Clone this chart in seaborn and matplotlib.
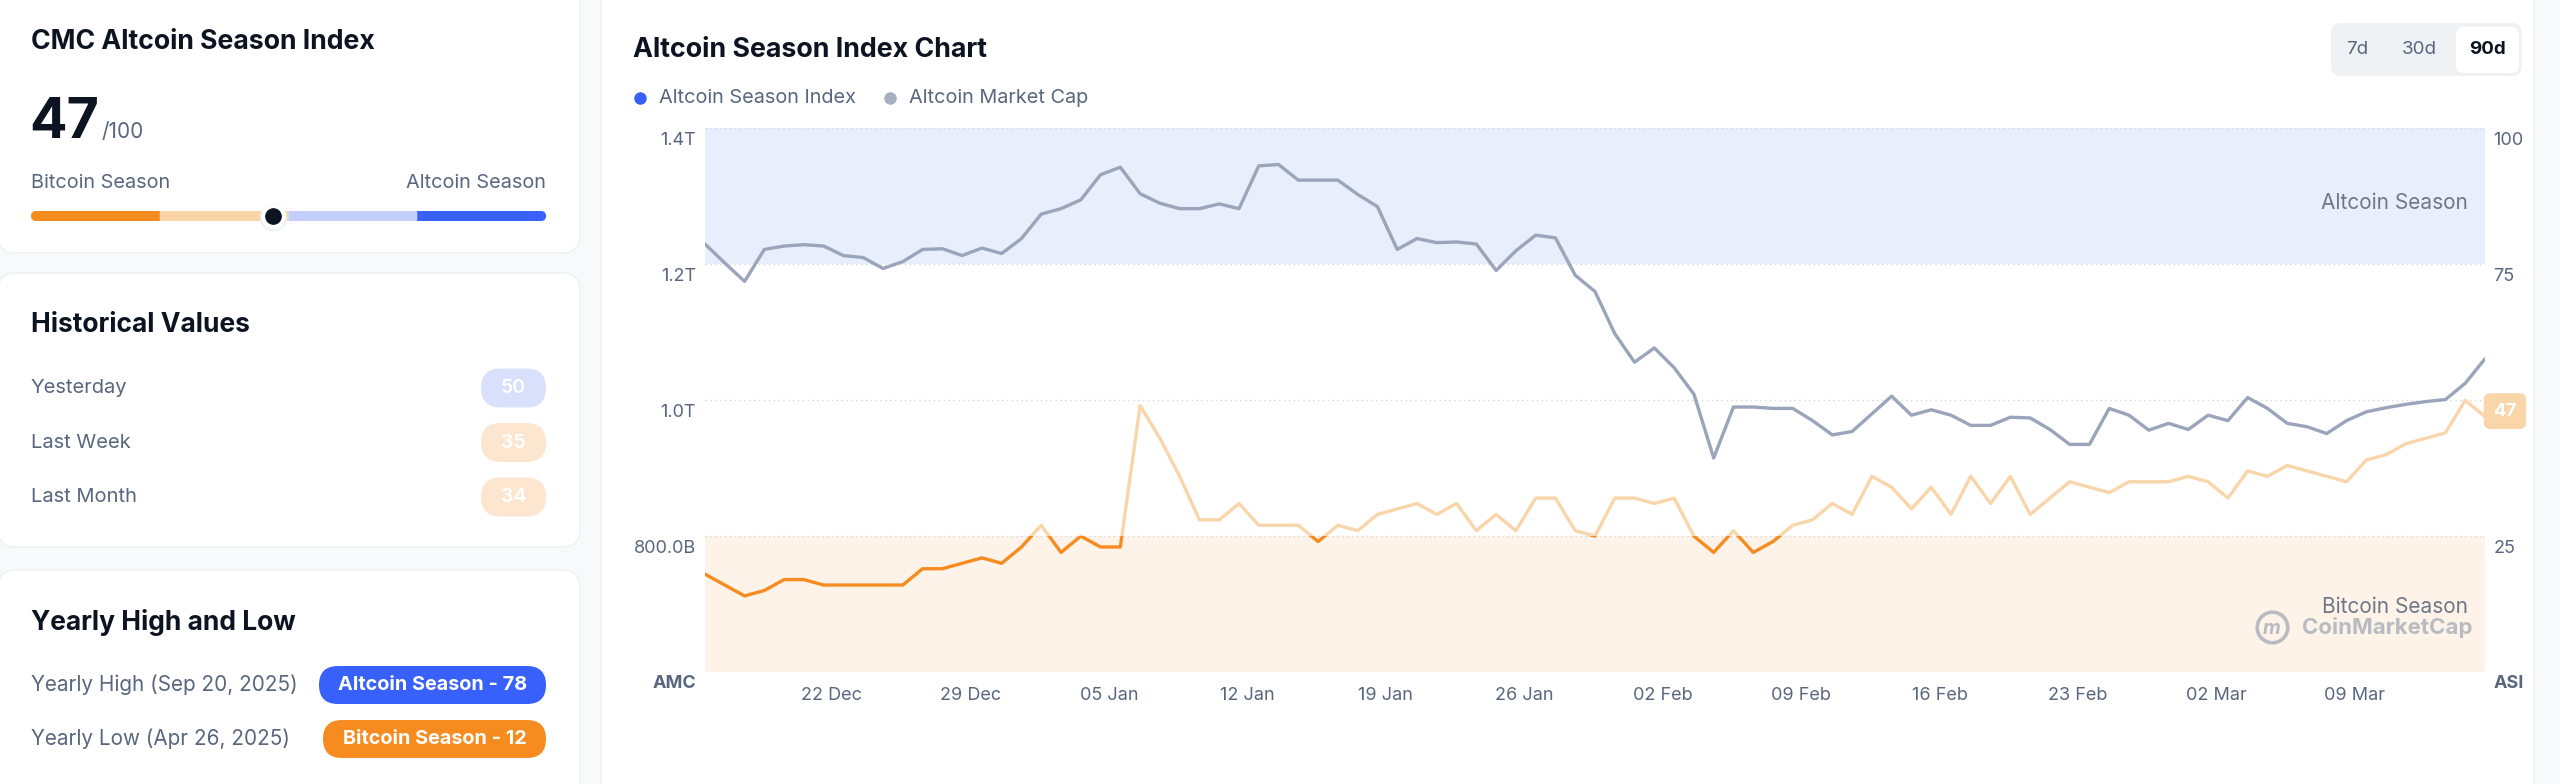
import numpy as np
import pandas as pd
import matplotlib
matplotlib.use("Agg")
import matplotlib.pyplot as plt
import matplotlib.dates as mdates
import matplotlib.transforms as mtransforms
from matplotlib.patches import FancyBboxPatch, Rectangle
from matplotlib.lines import Line2D
import seaborn as sns

W, H = 2560, 784

# daily values, 90 days ending mid March
dates = pd.date_range("2025-12-15 14:00", periods=91, freq="D")
asi = [18, 16, 14, 15, 17, 17, 16, 16, 16, 16, 16, 19, 19, 20, 21, 20, 23, 27, 22, 25,
       23, 23, 49, 43, 36, 28, 28, 31, 27, 27, 27, 24, 27, 26, 29, 30, 31, 29, 31, 26,
       29, 26, 32, 32, 26, 25, 32, 32, 31, 32, 25, 22, 26, 22, 24, 27, 28, 31, 29, 36,
       34, 30, 34, 29, 36, 31, 36, 29, 32, 35, 34, 33, 35, 35, 35, 36, 35, 32, 37, 36,
       38, 37, 36, 35, 39, 40, 42, 43, 44, 50, 47]
mcap_b = [1230, 1202, 1175, 1222, 1227, 1229, 1227, 1213, 1210, 1194, 1204, 1222, 1223, 1213,
          1224, 1216, 1238, 1274, 1282, 1295, 1332, 1343, 1304, 1290, 1282, 1282, 1289, 1282,
          1345, 1347, 1324, 1324, 1324, 1303, 1285, 1222, 1238, 1232, 1233, 1230, 1191, 1220,
          1243, 1239, 1184, 1160, 1098, 1056, 1077, 1048, 1009, 915, 990, 990, 988, 988,
          970, 949, 954, 980, 1006, 978, 986, 978, 963, 963, 975, 974, 957, 935, 935,
          988, 978, 956, 966, 957, 978, 970, 1004, 988, 966, 961, 951, 970, 983, 989,
          994, 998, 1001, 1025, 1061]

xtick_dates = pd.date_range("2025-12-22", "2026-03-09", freq="7D")
left_ticks = [600, 800, 1000, 1200, 1400]
left_labels = ["AMC", "800.0B", "1.0T", "1.2T", "1.4T"]
right_ticks = [0, 25, 50, 75, 100]
right_labels = ["ASI", "25", "50", "75", "100"]

current_index = 47
hist_labels = ["Yesterday", "Last Week", "Last Month"]
hist_values = [50, 35, 34]
yearly_labels = ["Yearly High (Sep 20, 2025)", "Yearly Low (Apr 26, 2025)"]
yearly_badges = ["Altcoin Season - 78", "Bitcoin Season - 12"]
periods = ["7d", "30d", "90d"]

BG = "#F8F9FA"
DARK = "#0D1421"
GREY_T = "#58667E"
ORANGE = "#F68B1F"
PEACH = "#F9D5AA"
PEACH_PILL = "#FDE6D0"
BLUE = "#3861FB"
LIGHT_BLUE = "#C3CEFB"
BLUE_PILL = "#D8E0FC"
BLUE_BAND = "#E9EEFD"
ORANGE_BAND = "#FDF3E9"
GREY_LINE = "#9AA4BA"

sns.set_theme(style="white")
plt.rcParams["font.family"] = ["Inter", "DejaVu Sans"]

fig = plt.figure(figsize=(W / 100, H / 100), dpi=100, facecolor=BG)
PX = mtransforms.Affine2D().scale(1 / W, 1 / H) + fig.transFigure


def box(x0, y0, x1, y1, r, fc, ec="none", z=-1):
    # y measured from top of image
    p = FancyBboxPatch((x0, H - y1), x1 - x0, y1 - y0,
                       boxstyle=f"round,pad=0,rounding_size={r}",
                       transform=PX, fc=fc, ec=ec, lw=1, zorder=z)
    fig.add_artist(p)


def txt(x, y, s, **kw):
    kw.setdefault("va", "center")
    fig.text(x / W, 1 - y / H, s, **kw)


def dot(x, y, size, color, **kw):
    fig.add_artist(Line2D([x / W], [1 - y / H], marker="o", ms=size, mfc=color,
                          mec=kw.pop("mec", color), transform=fig.transFigure, **kw))


# ---- left cards
box(-2, -30, 580, 253, 18, "white", "#EEF0F3")
box(-2, 273, 580, 547, 18, "white", "#EEF0F3")
box(-2, 570, 580, 820, 18, "white", "#EEF0F3")

txt(31, 42, "CMC Altcoin Season Index", fontsize=19.2, fontweight="bold", color=DARK)
txt(29, 138, str(current_index), fontsize=40, fontweight="bold", color=DARK, va="baseline")
txt(102, 138, "/100", fontsize=15, color=GREY_T, va="baseline")
txt(31, 183, "Bitcoin Season", fontsize=14.3, color=GREY_T)
txt(546, 183, "Altcoin Season", fontsize=14.3, color=GREY_T, ha="right")

bx0, bx1, by = 31, 546, 216
bw = bx1 - bx0
box(bx0, by - 5, bx0 + 0.27 * bw, by + 5, 5, ORANGE, z=1)
box(bx0 + 0.25 * bw, by - 5, bx0 + 0.5 * bw, by + 5, 0, PEACH, z=2)
box(bx0 + 0.73 * bw, by - 5, bx1, by + 5, 5, BLUE, z=1)
box(bx0 + 0.5 * bw, by - 5, bx0 + 0.75 * bw, by + 5, 0, LIGHT_BLUE, z=2)
cx = bx0 + current_index / 100 * bw
dot(cx, by + 1, 19, "#E9ECF1", alpha=0.6, zorder=3)
dot(cx, by, 17, "white", zorder=4)
dot(cx, by, 11, DARK, zorder=5)

txt(31, 325, "Historical Values", fontsize=19, fontweight="bold", color=DARK)
for i, (lab, val) in enumerate(zip(hist_labels, hist_values)):
    y = 388 + i * 54.5
    txt(31, y, lab, fontsize=14.5, color=GREY_T)
    pill = BLUE_PILL if val >= 50 else PEACH_PILL
    box(481, y - 19.5, 546, y + 19.5, 19.5, pill, z=1)
    txt(513.5, y, str(val), fontsize=14, color="white", ha="center", fontweight="semibold")

txt(31, 622, "Yearly High and Low", fontsize=19, fontweight="bold", color=DARK)
for i, (lab, badge) in enumerate(zip(yearly_labels, yearly_badges)):
    y = 685 + i * 54
    txt(31, y, lab, fontsize=14.9, color=GREY_T)
    x0 = 319 if i == 0 else 323
    box(x0, y - 19, 546, y + 19, 19, BLUE if i == 0 else ORANGE, z=1)
    txt((x0 + 546) / 2, y, badge, fontsize=14.3, color="white", ha="center", fontweight="bold")

# ---- right card
box(601, -30, 2534, 820, 18, "white", "#EEF0F3")
txt(633, 50, "Altcoin Season Index Chart", fontsize=19.3, fontweight="bold", color=DARK)
dot(640, 98, 8, BLUE)
txt(659, 98, "Altcoin Season Index", fontsize=14.3, color=GREY_T)
dot(890, 98, 8, "#A8B0C0")
txt(909, 98, "Altcoin Market Cap", fontsize=14.3, color=GREY_T)

box(2331, 23, 2522, 76, 10, "#EFF2F5", z=1)
box(2456, 27, 2519, 73, 8, "white", z=2)
for lab, xc in zip(periods, [2357, 2419, 2488]):
    sel = lab == "90d"
    txt(xc, 50, lab, fontsize=13.5, ha="center", color=DARK if sel else GREY_T,
        fontweight="bold" if sel else "normal")

# ---- chart
df = pd.DataFrame({"date": dates, "asi": asi, "mcap": mcap_b})

ax = fig.add_axes([705 / W, 1 - 672 / H, 1780 / W, (672 - 128.5) / H])
ax.patch.set_visible(False)
ax.axhspan(1200, 1400, color=BLUE_BAND, lw=0, zorder=0)
ax.axhspan(600, 800, color=ORANGE_BAND, lw=0, zorder=0)
sns.lineplot(data=df, x="date", y="mcap", ax=ax, color=GREY_LINE, linewidth=2.4, zorder=3)
ax.lines[-1].set_solid_joinstyle("round")
ax.set_ylim(600, 1400)
ax.set_xlim(dates[0], dates[-1])
ax.set_yticks(left_ticks, left_labels)
ax.set_xticks(xtick_dates)
ax.xaxis.set_major_formatter(mdates.DateFormatter("%d %b"))
ax.grid(axis="y", linestyle=(0, (1, 2.5)), color="#D3D7DE", linewidth=1)
ax.grid(axis="x", visible=False)
ax.tick_params(axis="y", length=0, pad=6.5, labelsize=13, labelcolor=GREY_T)
ax.tick_params(axis="x", length=0, pad=11, labelsize=13, labelcolor=GREY_T)
ax.set_xlabel("")
ax.set_ylabel("")
for s in ax.spines.values():
    s.set_visible(False)

ax2 = ax.twinx()
ax2.patch.set_visible(False)
blend = mtransforms.blended_transform_factory(ax2.transAxes, ax2.transData)
for lo, hi, col in [(-20, 25, ORANGE), (25, 75, PEACH), (75, 120, BLUE)]:
    sns.lineplot(data=df, x="date", y="asi", ax=ax2, color=col, linewidth=2.4, zorder=4)
    line = ax2.lines[-1]
    line.set_solid_joinstyle("round")
    line.set_clip_path(Rectangle((0, lo), 1, hi - lo, transform=blend))
ax2.set_ylim(0, 100)
ax2.set_xlim(dates[0], dates[-1])
ax2.set_yticks(right_ticks, right_labels)
ax2.tick_params(axis="y", length=0, pad=6, labelsize=13, labelcolor=GREY_T)
ax2.grid(False)
ax2.set_ylabel("")
for s in ax2.spines.values():
    s.set_visible(False)

shift = mtransforms.ScaledTranslation(0, -0.10, fig.dpi_scale_trans)
for a in (ax, ax2):
    for lab in a.get_yticklabels():
        lab.set_transform(lab.get_transform() + shift)
ax.get_yticklabels()[0].set_fontweight("bold")
ax2.get_yticklabels()[0].set_fontweight("bold")

ax2.text(0.9905, 86.3, "Altcoin Season", transform=blend, ha="right", va="center",
         fontsize=15, color="#6F7787")
ax2.text(0.9905, 12, "Bitcoin Season", transform=blend, ha="right", va="center",
         fontsize=15, color="#6F7787")
ax2.text(0.9927, 8.2, "CoinMarketCap", transform=blend, ha="right", va="center",
         fontsize=16, color="#B8BBC1", fontweight="bold")
ax2.plot([0.8803], [8.2], transform=blend, marker="o", ms=22, mfc="none", mec="#B8BBC1",
         mew=2.6, clip_on=False)
ax2.text(0.8803, 8.0, "m", transform=blend, ha="center", va="center", fontsize=14,
         color="#B8BBC1", fontweight="bold", style="italic")

ax2.text(1.0112, asi[-1] + 1, str(asi[-1]), transform=blend, ha="center", va="center",
         fontsize=13.5, color="white", fontweight="bold", clip_on=False, zorder=10,
         bbox=dict(boxstyle="round,pad=0.5,rounding_size=0.35", fc=PEACH, ec="none"))

fig.savefig("out.png", dpi=100, facecolor=BG)
